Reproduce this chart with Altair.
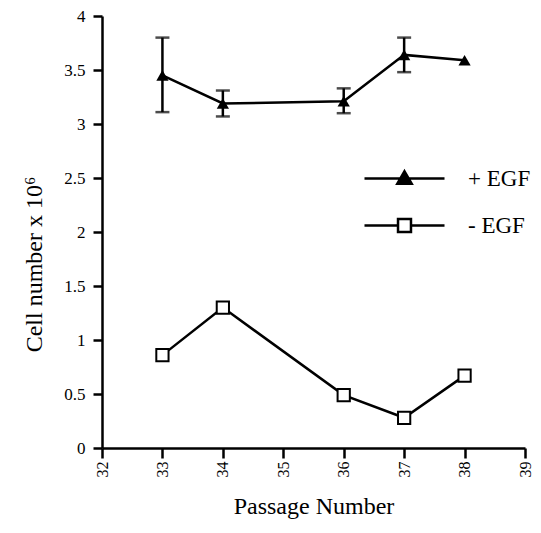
import altair as alt
import pandas as pd

# Data
passage = [33, 34, 36, 37, 38]
plus_egf = [3.45, 3.19, 3.21, 3.64, 3.59]
plus_lo = [3.11, 3.07, 3.10, 3.48, None]
plus_hi = [3.80, 3.31, 3.33, 3.80, None]
minus_egf = [0.86, 1.30, 0.49, 0.28, 0.67]

series_names = ["+ EGF", "- EGF"]
x_ticks = [32, 33, 34, 35, 36, 37, 38, 39]
y_ticks = [0, 0.5, 1, 1.5, 2, 2.5, 3, 3.5, 4]

plus_df = pd.DataFrame({"passage": passage, "value": plus_egf, "lo": plus_lo,
                        "hi": plus_hi, "series": series_names[0]})
minus_df = pd.DataFrame({"passage": passage, "value": minus_egf, "series": series_names[1]})
err_df = plus_df.dropna()

FONT = "Liberation Serif"

x_enc = alt.X("passage:Q", scale=alt.Scale(domain=[32, 39], nice=False),
              axis=alt.Axis(values=x_ticks, title="Passage Number", labelAngle=270,
                            format="d", titlePadding=17, labelFont=FONT, titleFont=FONT,
                            labelFontSize=16, titleFontSize=24, tickSize=10, labelPadding=3))
y_enc = alt.Y("value:Q", scale=alt.Scale(domain=[0, 4], nice=False),
              axis=alt.Axis(values=y_ticks, title="Cell number x 10⁶", format="~g",
                            titlePadding=17, titleY=248, labelFont=FONT, titleFont=FONT,
                            labelFontSize=17, titleFontSize=24, tickSize=9, labelPadding=8))

# custom legend symbols: a line with the marker in the middle
tri_path = "M-1.667,0H1.667M0,-0.3L0.3,0.22L-0.3,0.22Z"
sq_path = "M-1.667,0H-0.27M0.27,0H1.667M-0.27,-0.27H0.27V0.27H-0.27Z"

lines_plus = alt.Chart(plus_df).mark_line(color="black", strokeWidth=2.5).encode(x=x_enc, y=y_enc)
lines_minus = alt.Chart(minus_df).mark_line(color="black", strokeWidth=2.5).encode(x="passage:Q", y="value:Q")

err_rule = alt.Chart(err_df).mark_rule(color="black", strokeWidth=2.5).encode(
    x="passage:Q", y="lo:Q", y2="hi:Q")
err_cap_lo = alt.Chart(err_df).mark_tick(color="black", thickness=2.5, size=14,
                                         orient="horizontal").encode(x="passage:Q", y="lo:Q")
err_cap_hi = alt.Chart(err_df).mark_tick(color="black", thickness=2.5, size=14,
                                         orient="horizontal").encode(x="passage:Q", y="hi:Q")

pts_plus = alt.Chart(plus_df).mark_point(shape="triangle-up", filled=True, color="black",
                                         size=150, opacity=1).encode(x="passage:Q", y="value:Q")
pts_minus = alt.Chart(minus_df).mark_point(shape="square", filled=False, fill="white",
                                           color="black", strokeWidth=2, size=150,
                                           opacity=1).encode(x="passage:Q", y="value:Q")

legend_kw = dict(title=None, orient="none", legendX=277, legendY=137,
                 symbolSize=2304, labelOffset=38, rowPadding=9,
                 labelFontSize=23, labelFont=FONT, labelColor="black",
                 symbolStrokeWidth=2.5, symbolStrokeColor="black")

legend_layer = alt.Chart(minus_df).transform_filter("false").mark_point(
    filled=False, strokeWidth=2.5, opacity=1).encode(
    x="passage:Q", y="value:Q",
    shape=alt.Shape("series:N", scale=alt.Scale(domain=series_names, range=[tri_path, sq_path]),
                    legend=alt.Legend(**legend_kw)),
    fill=alt.Fill("series:N", scale=alt.Scale(domain=series_names, range=["black", "white"]),
                  legend=alt.Legend(**legend_kw)),
    stroke=alt.Stroke("series:N", scale=alt.Scale(domain=series_names, range=["black", "black"]),
                      legend=alt.Legend(**legend_kw)),
)

chart = alt.layer(lines_plus, lines_minus, err_rule, err_cap_lo, err_cap_hi,
                  pts_plus, pts_minus, legend_layer).properties(
    width=423, height=432,
    autosize=alt.AutoSizeParams(type="none"),
    padding={"left": 94, "top": 8, "right": 8, "bottom": 72},
).configure(font=FONT).configure_view(stroke=None).configure_axis(
    grid=False, domainColor="black", domainWidth=2.5, tickColor="black", tickWidth=2.5,
    labelColor="black", titleColor="black", titleFontWeight="normal",
)

chart.save("out.html", embed_options={"renderer": "svg", "actions": False})
